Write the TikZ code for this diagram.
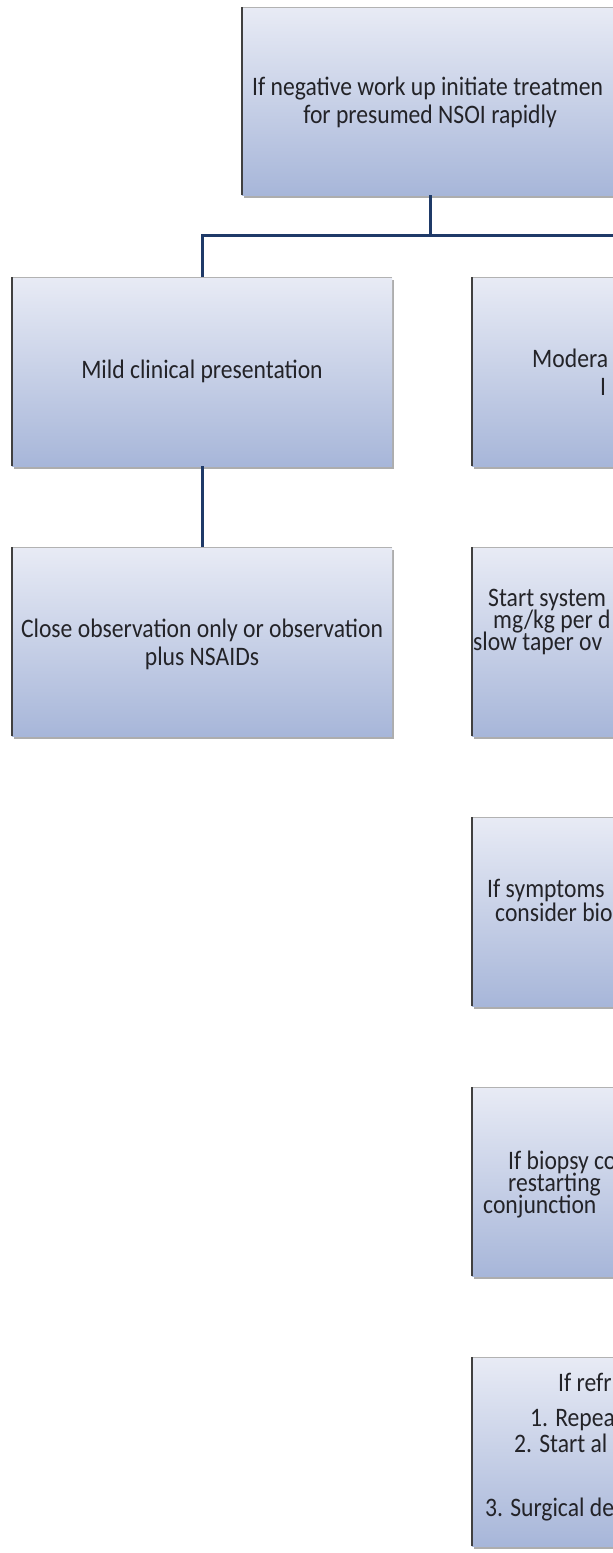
\documentclass[tikz,border=0pt]{standalone}
\usepackage{fontspec}
\setmainfont{Carlito}
\usetikzlibrary{shadows}
\definecolor{conncol}{RGB}{31,58,104}
\definecolor{boxtop}{RGB}{232,235,245}
\definecolor{boxbot}{RGB}{167,182,217}
\definecolor{txt}{RGB}{35,35,40}
\newcommand{\tallt}[1]{\scalebox{1.01}[1.14]{#1}}
\tikzset{
  box/.style={rectangle, inner sep=0pt, minimum width=380pt, minimum height=189pt,
    anchor=north west, top color=boxtop, bottom color=boxbot,
    drop shadow={shadow xshift=1.5pt, shadow yshift=-3pt, fill=black!40, opacity=0.8}},
  edgeL/.style={draw=black!75, line width=1.4pt},
  edgeT/.style={draw=black!30, line width=0.6pt},
  lbl/.style={anchor=base west, inner sep=0pt, text=txt, font=\fontsize{23.4}{28}\selectfont},
  lblc/.style={anchor=base, inner sep=0pt, text=txt, font=\fontsize{23.4}{28}\selectfont},
  conn/.style={draw=conncol, line width=3pt}
}
\begin{document}
\begin{tikzpicture}[x=1pt,y=-1pt]
\useasboundingbox (0,0) rectangle (613,1553);
\clip (0,0) rectangle (613,1553);
\fill[white] (0,0) rectangle (613,1553);
% boxes
\node[box, minimum width=376pt, minimum height=188pt] (top) at (242,7) {};
\node[box] (mild) at (12,277) {};
\node[box] (mod) at (472,277) {};
\node[box] (close) at (12,547) {};
\node[box] (start) at (472,547) {};
\node[box] (symp) at (472,817) {};
\node[box] (biopsy) at (472,1087) {};
\node[box] (refr) at (472,1357) {};
% box edges
\foreach \b in {top,mild,mod,close,start,symp,biopsy,refr}{
  \draw[edgeT] (\b.north west) -- (\b.north east);
  \draw[edgeL] (\b.south west) -- (\b.north west);
}
% connectors
\path (top.south) ++(0,40) coordinate (bus);
\draw[conn] (top.south) -- (bus);
\draw[conn] (mild.north) |- (bus);
\draw[conn] (mod.north) |- (bus);
\draw[conn] (mild.south) -- (close.north);
% texts
\node[lbl] (t1a) at (252,95) {\tallt{If negative work up initiate treatmen}};
\node[lblc] (t1b) at (430,123) {\tallt{for presumed NSOI rapidly}};
\node[lblc] (t2) at (202,378) {\tallt{Mild clinical presentation}};
\node[lbl] (t3a) at (532,367) {\tallt{Modera}};
\node[lbl] (t3b) at (600,395) {\tallt{I}};
\node[lblc] (t4a) at (202,637) {\tallt{Close observation only or observation}};
\node[lblc] (t4b) at (202,665) {\tallt{plus NSAIDs}};
\node[lbl] (t5a) at (488,606) {\tallt{Start system}};
\node[lbl] (t5b) at (493,628) {\tallt{mg/kg per d}};
\node[lbl] (t5c) at (473,650) {\tallt{slow taper ov}};
\node[lbl] (t6a) at (487,897) {\tallt{If symptoms}};
\node[lbl] (t6b) at (495,921) {\tallt{consider bio}};
\node[lbl] (t7a) at (508,1169) {\tallt{If biopsy co}};
\node[lbl] (t7b) at (508,1191) {\tallt{restarting}};
\node[lbl] (t7c) at (483,1213) {\tallt{conjunction}};
\node[lbl] (t8a) at (558,1391) {\tallt{If refr}};
\node[lbl] (t8b) at (530,1426) {\tallt{1. Repea}};
\node[lbl] (t8c) at (514,1452) {\tallt{2. Start al}};
\node[lbl] (t8d) at (485,1516) {\tallt{3. Surgical de}};
\end{tikzpicture}
\end{document}
